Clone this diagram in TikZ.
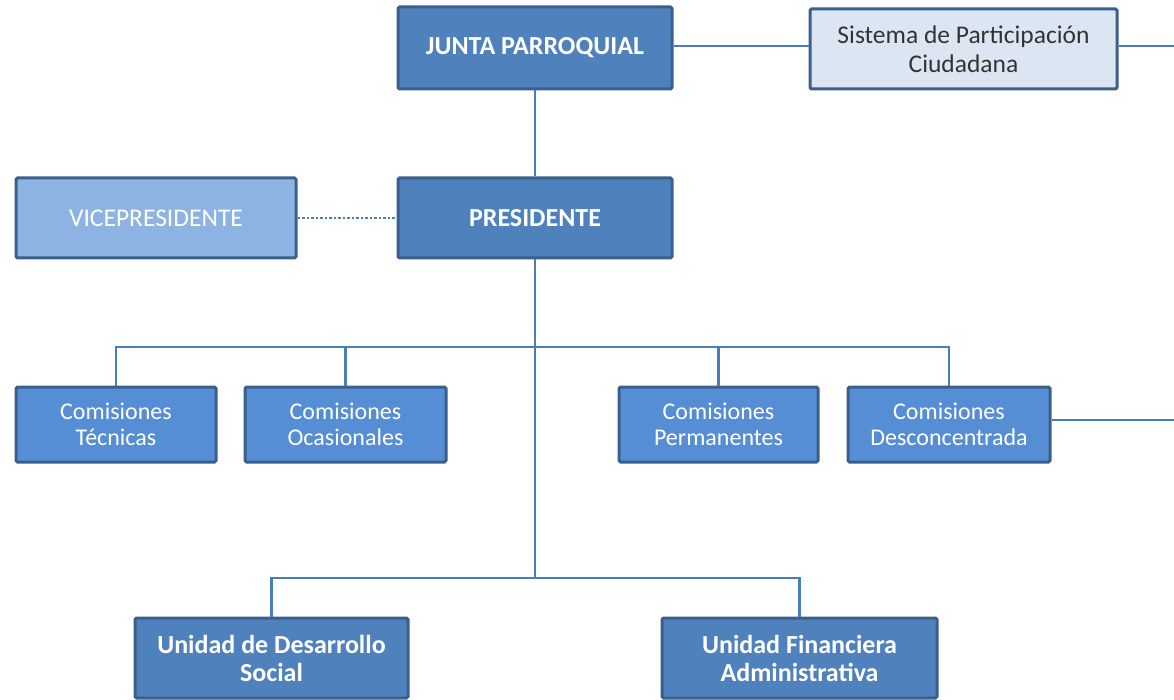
\documentclass[tikz,border=0pt]{standalone}
\usepackage{fontspec}
\setmainfont{Carlito}
\definecolor{boxborder}{HTML}{3A5F8B}
\definecolor{linec}{HTML}{4A7EBB}
\definecolor{darkfill}{HTML}{4F81BD}
\definecolor{comfill}{HTML}{558ED5}
\definecolor{vicefill}{HTML}{8DB3E2}
\definecolor{sisfill}{HTML}{DCE6F2}
\definecolor{sistext}{HTML}{333333}
\tikzset{
  orgbox/.style={draw=boxborder, line width=3pt, rounded corners=1.5pt, align=center, inner sep=2pt},
  mainbox/.style={orgbox, fill=darkfill, text=white, font=\fontsize{26}{28}\selectfont\bfseries},
  combox/.style={orgbox, fill=comfill, text=white, font=\fontsize{24}{26}\selectfont, minimum height=75pt},
  conn/.style={draw=linec, line width=2.5pt},
}
\begin{document}
\begin{tikzpicture}[x=1pt,y=-1pt]
\useasboundingbox (0,0) rectangle (1174,700);
\node[mainbox, minimum width=274pt, minimum height=82pt] (junta) at (535,48) {JUNTA PARROQUIAL};
\node[orgbox, fill=sisfill, text=sistext, font=\fontsize{25.5}{28.5}\selectfont, minimum width=307pt, minimum height=80pt] (sis) at (963.5,49) {Sistema de Participación\\Ciudadana};
\node[orgbox, fill=vicefill, text=white, font=\fontsize{25.5}{28}\selectfont, minimum width=280pt, minimum height=80pt] (vice) at (156,218) {VICEPRESIDENTE};
\node[mainbox, minimum width=274pt, minimum height=80pt] (pres) at (535,218) {PRESIDENTE};
\node[combox, minimum width=200pt] (tec) at (116,424.5) {Comisiones\\Técnicas};
\node[combox, minimum width=201pt] (oca) at (345.5,424.5) {Comisiones\\Ocasionales};
\node[combox, minimum width=199pt] (per) at (718.5,424.5) {Comisiones\\Permanentes};
\node[combox, minimum width=202pt] (des) at (949,424.5) {Comisiones\\Desconcentrada};
\node[mainbox, minimum width=273pt, minimum height=80pt] (uds) at (271.5,658) {Unidad de Desarrollo\\Social};
\node[mainbox, minimum width=275pt, minimum height=80pt] (ufa) at (799.5,658) {Unidad Financiera\\Administrativa};
\coordinate (bus1) at (535,347);
\coordinate (bus2) at (535,578);
\coordinate (edge1) at (1174,46);
\coordinate (edge2) at (1174,420);
\draw[conn] (junta.east |- edge1) -- (sis.west |- edge1);
\draw[conn] (sis.east |- edge1) -- (edge1);
\draw[conn] (des.east |- edge2) -- (edge2);
\draw[conn] (junta.south) -- (pres.north);
\draw[conn] (pres.south) -- (bus2);
\draw[conn] (tec.north) |- (bus1) -| (des.north);
\draw[conn] (oca.north) -- (oca.north |- bus1);
\draw[conn] (per.north) -- (per.north |- bus1);
\draw[conn] (uds.north) |- (bus2) -| (ufa.north);
\draw[draw=linec, line width=2.5pt, dotted] (vice.east) -- (pres.west);
\end{tikzpicture}
\end{document}
